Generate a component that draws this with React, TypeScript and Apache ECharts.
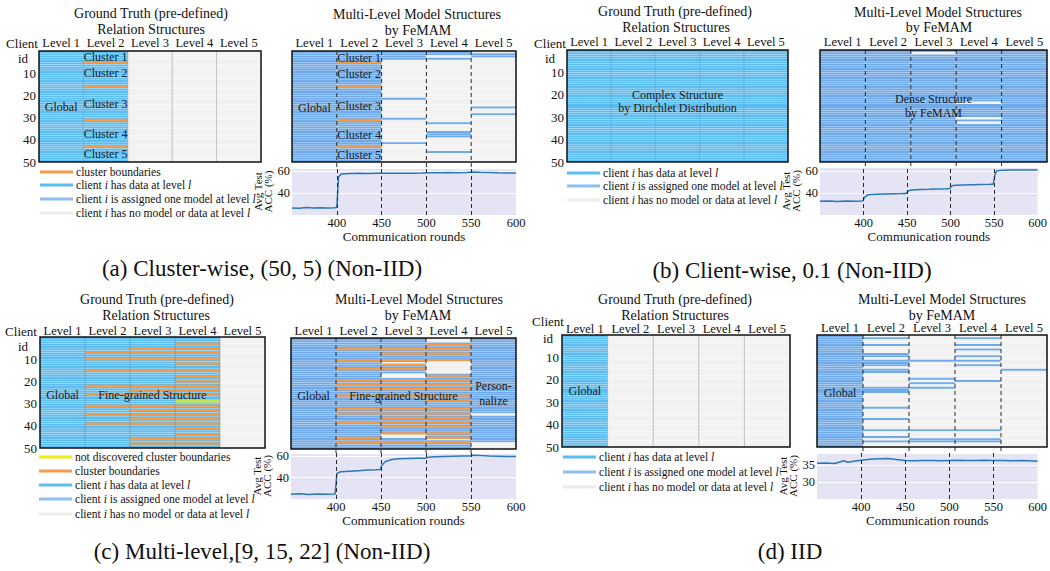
import React, { useEffect, useRef } from "react";
import * as echarts from "echarts";

const FONT = "Liberation Serif";
const LEVELS = ["Level 1", "Level 2", "Level 3", "Level 4", "Level 5"];
const ALL: number[][] = [[1, 50]];
const NONE: number[][] = [];

// rows (client ids) that have data (ground truth) or an assigned model (FeMAM), per level
const gtA = [ALL, ALL, NONE, NONE, NONE];
const fmA = [ALL, ALL, [[1, 4], [22, 22], [31, 31], [42, 42]], [[1, 2], [4, 4], [33, 33], [37, 39], [46, 46]], [[2, 3], [26, 26], [29, 29]]];
const gtB = [ALL, ALL, ALL, ALL, ALL];
const fmB = [ALL, ALL, [[1, 1], [3, 50]], [[1, 23], [25, 30], [32, 32], [34, 50]], ALL];
const gtC = [ALL, ALL, ALL, ALL, NONE];
const fmC = [ALL, ALL, [[1, 11], [13, 16], [19, 43], [46, 50]], [[3, 10], [17, 45], [47, 50]], [[1, 34], [36, 47]]];
const gtD = [ALL, NONE, NONE, NONE, NONE];
const fmD = [
  ALL,
  [[2, 2], [5, 5], [9, 10], [12, 14], [16, 17], [24, 26], [33, 33], [38, 38], [43, 43], [46, 46], [48, 48]],
  [[12, 12], [20, 20], [22, 22], [24, 24], [43, 43], [47, 48]],
  [[2, 2], [5, 5], [7, 7], [10, 10], [12, 12], [14, 14], [21, 21], [43, 43], [47, 48]],
  [[16, 16]],
];

// cluster boundaries: [client id, from level, to level]
const bndA = [[5, 2, 2], [16, 2, 2], [31, 2, 2], [43, 2, 2]];
const bndCgt = [[3, 4, 4], [5, 3, 4], [7, 2, 4], [10, 2, 4], [12, 4, 4], [15, 2, 4], [18, 4, 4], [20, 4, 4], [22, 2, 4], [24, 3, 4], [26, 2, 4], [31, 2, 4], [33, 3, 4], [35, 2, 4], [37, 3, 4], [39, 2, 4], [41, 4, 4], [44, 4, 4], [46, 3, 4], [48, 3, 4]];
const undiscCgt = [[29, 4, 4]];
const bndCfm = [[3, 4, 4], [5, 2, 4], [7, 3, 4], [10, 2, 4], [12, 3, 3], [14, 2, 3], [17, 4, 4], [19, 2, 4], [21, 2, 4], [23, 2, 4], [26, 2, 4], [28, 4, 4], [32, 2, 4], [34, 2, 4], [36, 3, 4], [38, 2, 4], [40, 3, 4], [43, 3, 4], [45, 2, 2], [45, 4, 4], [47, 2, 4]];

// annotations inside the structure maps: [level position, client position, text]
const labAgt: [number, number, string][] = [[0.5, 25, "Global"], [1.5, 2.5, "Cluster 1"], [1.5, 10, "Cluster 2"], [1.5, 23.7, "Cluster 3"], [1.5, 37.6, "Cluster 4"], [1.5, 46.5, "Cluster 5"]];
const labAfm: [number, number, string][] = [[0.5, 25.5, "Global"], [1.5, 3, "Cluster 1"], [1.5, 10.4, "Cluster 2"], [1.5, 24.6, "Cluster 3"], [1.5, 38, "Cluster 4"], [1.5, 47, "Cluster 5"]];
const labBgt: [number, number, string][] = [[2.5, 20, "Complex Structure"], [2.5, 26, "by Dirichlet Distribution"]];
const labBfm: [number, number, string][] = [[2.5, 22, "Dense Structure"], [2.5, 28, "by FeMAM"]];
const labCgt: [number, number, string][] = [[0.5, 26, "Global"], [2.5, 26, "Fine-grained Structure"]];
const labCfm: [number, number, string][] = [[0.5, 26, "Global"], [2.5, 26, "Fine-grained Structure"], [4.5, 21.5, "Person-"], [4.5, 28.5, "nalize"]];
const labDgt: [number, number, string][] = [[0.5, 25, "Global"]];
const labDfm: [number, number, string][] = [[0.5, 26, "Global"]];

// average test accuracy (%) vs communication round
const accA = [[350, 26.5], [358, 26.2], [366, 26.8], [374, 26.3], [382, 26.6], [390, 26.4], [398, 26.7], [400, 27], [402, 55], [405, 57.6], [415, 58.0], [425, 58.2], [435, 58.0], [445, 58.1], [455, 58.2], [465, 58.3], [475, 58.2], [485, 58.3], [495, 58.4], [505, 58.7], [515, 58.6], [525, 58.8], [535, 58.7], [545, 58.8], [552, 59.3], [560, 59.0], [570, 58.8], [580, 58.6], [590, 58.5], [600, 58.4]];
const accB = [[350, 32.5], [360, 32.8], [370, 32.4], [380, 32.9], [390, 32.6], [399, 32.8], [401, 36], [405, 38.5], [415, 39], [425, 39.3], [435, 39.5], [445, 39.6], [449, 39.7], [451, 42], [455, 43], [465, 43.3], [475, 43.5], [485, 43.8], [495, 44], [499, 44.2], [501, 46.5], [505, 47.2], [515, 47.5], [525, 47.8], [535, 48], [545, 48.2], [549, 48.3], [551, 57], [553, 60.5], [560, 61], [570, 61.2], [580, 61.3], [590, 61.2], [600, 61.3]];
const accC = [[350, 24.5], [360, 24.8], [370, 24.3], [380, 24.6], [390, 24.4], [399, 24.6], [401, 44], [405, 45.5], [415, 46], [425, 46.5], [435, 47], [445, 47.3], [449, 47.5], [451, 51.5], [455, 55], [462, 57], [470, 57.6], [480, 57.8], [490, 58], [499, 58], [502, 59], [510, 59.5], [520, 59.8], [530, 60], [540, 60.1], [549, 60.2], [552, 60.8], [560, 60.6], [570, 60.2], [580, 60], [590, 59.8], [600, 59.7]];
const accD = [[350, 35.5], [360, 35.6], [370, 35.4], [375, 35.8], [380, 36.2], [385, 35.8], [390, 36.0], [395, 36.2], [400, 36.4], [410, 36.7], [420, 36.8], [430, 36.9], [440, 36.6], [450, 36.3], [460, 36.2], [470, 36.3], [480, 36.3], [490, 36.2], [500, 36.3], [510, 36.4], [520, 36.3], [530, 36.3], [540, 36.4], [550, 36.3], [560, 36.3], [570, 36.2], [580, 36.3], [590, 36.2], [600, 36.1]];
const roundMarks = [400, 450, 500, 550];

const C_DATA = "#5CBDF0";
const C_ASSIGN = "#70AAE8";
const C_NONE = "#F1F1F1";
const C_ORANGE = "#F39C4C";
const C_YELLOW = "#EEEE10";
const C_LINE = "#2A78B8";
const C_BG = "#E4E4F4";

function expand(levels: number[][][]) {
  const out: number[][] = [];
  for (let l = 0; l < 5; l++) {
    for (let r = 1; r <= 50; r++) {
      const on = levels[l].some(([a, b]) => r >= a && r <= b);
      out.push([l, r, on ? 1 : 0]);
    }
  }
  return out;
}

type MapPanel = {
  grid: { left: number; top: number; width: number; height: number };
  states: number[][][];
  onColor: string;
  dashed: boolean;
  yLabels: boolean;
  headerMargin: number;
  labels: [number, number, string][];
  boundaries: number[][];
  undiscovered: number[][];
  extend: number;
};

type AccPanel = {
  grid: { left: number; top: number; width: number; height: number };
  data: number[][];
  min: number;
  max: number;
  interval: number;
  shown: number[];
};

const mapPanels: MapPanel[] = [
  { grid: { left: 39, top: 51, width: 222, height: 111 }, states: gtA, onColor: C_DATA, dashed: false, yLabels: true, headerMargin: 2, labels: labAgt, boundaries: bndA, undiscovered: [], extend: 0 },
  { grid: { left: 292, top: 51, width: 224, height: 111 }, states: fmA, onColor: C_ASSIGN, dashed: true, yLabels: false, headerMargin: 2, labels: labAfm, boundaries: bndA, undiscovered: [], extend: 6 },
  { grid: { left: 567, top: 50, width: 221, height: 112 }, states: gtB, onColor: C_DATA, dashed: false, yLabels: true, headerMargin: 2, labels: labBgt, boundaries: [], undiscovered: [], extend: 0 },
  { grid: { left: 820, top: 50, width: 227, height: 112 }, states: fmB, onColor: C_ASSIGN, dashed: true, yLabels: false, headerMargin: 2, labels: labBfm, boundaries: [], undiscovered: [], extend: 5 },
  { grid: { left: 40, top: 337, width: 225, height: 111 }, states: gtC, onColor: C_DATA, dashed: false, yLabels: true, headerMargin: 0, labels: labCgt, boundaries: bndCgt, undiscovered: undiscCgt, extend: 0 },
  { grid: { left: 291, top: 338, width: 225, height: 111 }, states: fmC, onColor: C_ASSIGN, dashed: true, yLabels: false, headerMargin: 1, labels: labCfm, boundaries: bndCfm, undiscovered: [], extend: 4 },
  { grid: { left: 562, top: 335, width: 228, height: 112 }, states: gtD, onColor: C_DATA, dashed: false, yLabels: true, headerMargin: 0, labels: labDgt, boundaries: [], undiscovered: [], extend: 0 },
  { grid: { left: 817, top: 335, width: 230, height: 112 }, states: fmD, onColor: C_ASSIGN, dashed: true, yLabels: false, headerMargin: 1, labels: labDfm, boundaries: [], undiscovered: [], extend: 6 },
];

const accPanels: AccPanel[] = [
  { grid: { left: 292, top: 168, width: 224, height: 47 }, data: accA, min: 20, max: 63, interval: 20, shown: [40, 60] },
  { grid: { left: 820, top: 167, width: 227, height: 48 }, data: accB, min: 20, max: 64, interval: 20, shown: [40, 60] },
  { grid: { left: 291, top: 453, width: 225, height: 46 }, data: accC, min: 20, max: 63, interval: 20, shown: [40, 60] },
  { grid: { left: 817, top: 453, width: 230, height: 46 }, data: accD, min: 25, max: 38.5, interval: 5, shown: [30, 35] },
];

function boundarySeries(idx: number, list: number[][], color: string) {
  return {
    type: "custom",
    xAxisIndex: idx,
    yAxisIndex: idx,
    z: 3,
    silent: true,
    data: list.map(([c, a, b]) => [a - 1, c, b - 1]),
    renderItem: (params: any, api: any) => {
      const bw = params.coordSys.width / 5;
      const a = api.value(0), c = api.value(1), b = api.value(2);
      const pa = api.coord([a, c]);
      const pb = api.coord([b, c]);
      return { type: "line", shape: { x1: pa[0] - bw / 2, y1: pa[1], x2: pb[0] + bw / 2, y2: pb[1] }, style: { stroke: color, lineWidth: 2.2 } };
    },
  };
}

function buildOption() {
  const grids: any[] = [];
  const xAxes: any[] = [];
  const yAxes: any[] = [];
  const series: any[] = [];

  mapPanels.forEach((p, i) => {
    grids.push({ ...p.grid, show: true, backgroundColor: "transparent", borderColor: "#111", borderWidth: 1.5, z: 10 });
    xAxes.push({
      gridIndex: i, type: "category", data: LEVELS, position: "top", boundaryGap: true,
      axisLine: { show: false }, axisTick: { show: false }, splitLine: { show: false },
      axisLabel: { interval: 0, margin: p.headerMargin, fontSize: 12.5, color: "#111", fontFamily: FONT },
    });
    yAxes.push({
      gridIndex: i, type: "value", min: 0, max: 50, interval: 10, inverse: true,
      axisLine: { show: false }, axisTick: { show: false }, splitLine: { show: false },
      axisLabel: { show: p.yLabels, margin: 3, fontSize: 13, color: "#111", fontFamily: FONT, formatter: (v: number) => (v === 0 ? "" : String(v)) },
    });
    series.push({
      type: "custom", xAxisIndex: i, yAxisIndex: i, z: 2, silent: true,
      data: expand(p.states),
      renderItem: (params: any, api: any) => {
        const bw = params.coordSys.width / 5;
        const l = api.value(0), r = api.value(1), on = api.value(2);
        const p0 = api.coord([l, r - 1]);
        const p1 = api.coord([l, r]);
        return {
          type: "rect",
          shape: { x: p0[0] - bw / 2, y: p0[1] + 0.12, width: bw, height: p1[1] - p0[1] - 0.24 },
          style: { fill: on ? p.onColor : C_NONE },
        };
      },
    });
    if (p.boundaries.length) series.push(boundarySeries(i, p.boundaries, C_ORANGE));
    if (p.undiscovered.length) series.push(boundarySeries(i, p.undiscovered, C_YELLOW));
    series.push({
      type: "custom", xAxisIndex: i, yAxisIndex: i, z: 4, silent: true,
      data: [[0, 0]],
      renderItem: (params: any, api: any) => {
        const bw = params.coordSys.width / 5;
        const children: any[] = [];
        const yTop = api.coord([0, 0])[1];
        const yBot = api.coord([0, 50])[1];
        for (let k = 1; k < 5; k++) {
          const x = api.coord([k, 0])[0] - bw / 2;
          children.push({
            type: "line",
            shape: { x1: x, y1: yTop, x2: x, y2: yBot + p.extend },
            style: p.dashed ? { stroke: "#2a2a2a", lineWidth: 1, lineDash: [4, 3] } : { stroke: "rgba(100,100,100,0.45)", lineWidth: 0.8 },
          });
        }
        p.labels.forEach(([pos, client, text]) => {
          const q = api.coord([0, client]);
          children.push({
            type: "text",
            x: q[0] - bw / 2 + pos * bw,
            y: q[1],
            style: { text, fill: "#1a1a1a", fontSize: 12, fontFamily: FONT, align: "center", verticalAlign: "middle" },
          });
        });
        return { type: "group", children };
      },
    });
  });

  accPanels.forEach((p, j) => {
    const i = mapPanels.length + j;
    grids.push({ ...p.grid, show: true, backgroundColor: C_BG, borderWidth: 0 });
    xAxes.push({
      gridIndex: i, type: "value", min: 350, max: 600, interval: 50,
      axisLine: { show: false }, axisTick: { show: false }, splitLine: { show: false },
      axisLabel: { margin: 1, fontSize: 12.5, color: "#111", fontFamily: FONT, formatter: (v: number) => (v === 350 ? "" : String(v)) },
      name: "Communication rounds", nameLocation: "middle", nameGap: 9,
      nameTextStyle: { fontSize: 13, color: "#111", fontFamily: FONT },
    });
    yAxes.push({
      gridIndex: i, type: "value", min: p.min, max: p.max, interval: p.interval,
      axisLine: { show: false }, axisTick: { show: false },
      splitLine: { show: true, lineStyle: { color: "#ffffff", width: 1 } },
      axisLabel: { margin: 2, fontSize: 12.5, color: "#111", fontFamily: FONT, formatter: (v: number) => (p.shown.includes(v) ? String(v) : "") },
      name: "Avg Test\nACC (%)", nameLocation: "middle", nameRotate: 90, nameGap: 15,
      nameTextStyle: { fontSize: 11, lineHeight: 10, color: "#111", fontFamily: FONT },
    });
    series.push({
      type: "line", xAxisIndex: i, yAxisIndex: i, data: p.data, showSymbol: false, silent: true,
      lineStyle: { color: C_LINE, width: 1.5 }, z: 3,
      markLine: {
        silent: true, symbol: ["none", "none"], label: { show: false },
        lineStyle: { color: "#2a2a2a", type: [4, 3], width: 1 },
        data: roundMarks.map((x) => ({ xAxis: x })),
      },
    });
  });

  const txt = (x: number, y: number, text: string, size: number, align = "center") => ({
    type: "text", x, y,
    style: { text, fontSize: size, fontFamily: FONT, fill: "#111", align, verticalAlign: "middle" },
  });
  const rich = { i: { fontStyle: "italic", fontSize: 11.6, fontFamily: FONT, fill: "#111" } };
  const legendItem = (x: number, y: number, color: string, text: string) => [
    { type: "line", shape: { x1: x, y1: y, x2: x + 33, y2: y }, style: { stroke: color, lineWidth: 3 } },
    { type: "text", x: x + 36, y, style: { text, rich, fontSize: 11.6, fontFamily: FONT, fill: "#111", align: "left", verticalAlign: "middle" } },
  ];
  const L_OR = "cluster boundaries";
  const L_YE = "not discovered cluster boundaries";
  const L_DA = "client {i|i} has data at level {i|l}";
  const L_AS = "client {i|i} is assigned one model at level {i|l}";
  const L_NO = "client {i|i} has no model or data at level {i|l}";
  const LEG_AS = "#8CC0F0";
  const LEG_NO = "#EBEBEB";

  const graphics: any[] = [
    txt(151, 13, "Ground Truth (pre-defined)", 14), txt(151, 29, "Relation Structures", 14),
    txt(417, 14, "Multi-Level Model Structures", 14), txt(418, 30, "by FeMAM", 14),
    txt(675, 11, "Ground Truth (pre-defined)", 14), txt(676, 27, "Relation Structures", 14),
    txt(938, 12, "Multi-Level Model Structures", 14), txt(939, 27, "by FeMAM", 14),
    txt(157, 299, "Ground Truth (pre-defined)", 14), txt(156, 315, "Relation Structures", 14),
    txt(419, 299, "Multi-Level Model Structures", 14), txt(418, 315, "by FeMAM", 14),
    txt(675, 299, "Ground Truth (pre-defined)", 14), txt(675, 315, "Relation Structures", 14),
    txt(942, 299, "Multi-Level Model Structures", 14), txt(942, 315, "by FeMAM", 14),
    txt(22, 43, "Client", 13), txt(23, 58, "id", 13),
    txt(550, 43, "Client", 13), txt(550, 58, "id", 13),
    txt(21, 331, "Client", 13), txt(23, 346, "id", 13),
    txt(548, 321, "Client", 13), txt(548, 338, "id", 13),
    ...legendItem(40, 172, C_ORANGE, L_OR),
    ...legendItem(40, 185, C_DATA, L_DA),
    ...legendItem(40, 199, LEG_AS, L_AS),
    ...legendItem(40, 213, LEG_NO, L_NO),
    ...legendItem(567, 173, C_DATA, L_DA),
    ...legendItem(567, 186, LEG_AS, L_AS),
    ...legendItem(567, 200, LEG_NO, L_NO),
    ...legendItem(39, 457, C_YELLOW, L_YE),
    ...legendItem(39, 471, C_ORANGE, L_OR),
    ...legendItem(39, 485, C_DATA, L_DA),
    ...legendItem(39, 499, LEG_AS, L_AS),
    ...legendItem(39, 514, LEG_NO, L_NO),
    ...legendItem(563, 457, C_DATA, L_DA),
    ...legendItem(563, 472, LEG_AS, L_AS),
    ...legendItem(563, 487, LEG_NO, L_NO),
    txt(262, 268, "(a) Cluster-wise, (50, 5) (Non-IID)", 23),
    txt(792, 270, "(b) Client-wise, 0.1 (Non-IID)", 23),
    txt(262, 551, "(c) Multi-level,[9, 15, 22] (Non-IID)", 23),
    txt(790, 551, "(d) IID", 23),
  ];

  return {
    animation: false,
    backgroundColor: "#ffffff",
    textStyle: { fontFamily: FONT },
    grid: grids,
    xAxis: xAxes,
    yAxis: yAxes,
    series,
    graphic: graphics,
  };
}

export default function App() {
  const ref = useRef<HTMLDivElement>(null);
  useEffect(() => {
    if (!ref.current) return;
    const chart = echarts.init(ref.current, undefined, { renderer: "svg" });
    chart.setOption(buildOption() as any);
    return () => chart.dispose();
  }, []);
  return <div ref={ref} style={{ position: "absolute", left: 0, top: 0, width: 1050, height: 571 }} />;
}
